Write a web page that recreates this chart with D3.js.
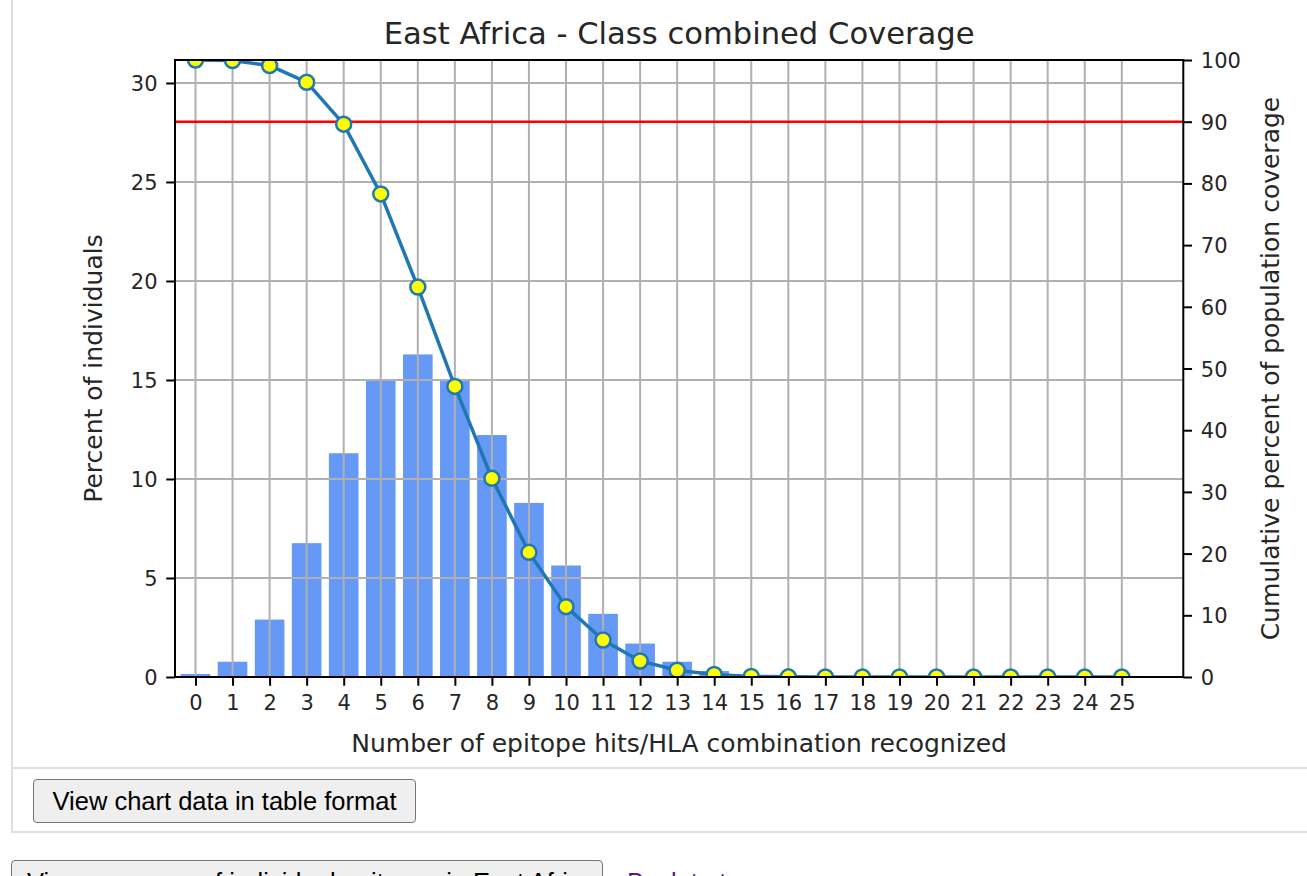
<!DOCTYPE html>
<html>
<head>
<meta charset="utf-8">
<script src="https://cdn.jsdelivr.net/npm/d3@7"></script>
<style>
  html, body { margin: 0; padding: 0; background: #fff; overflow: hidden; width: 1307px; height: 876px; }
  #frame { position: absolute; left: 11px; top: -2px; width: 1310px; height: 835px; border: 2px solid #dedede; box-sizing: border-box; }
  #sep { position: absolute; left: 11px; top: 767px; width: 1300px; height: 2px; background: #dedede; }
  svg { position: absolute; left: 0; top: 0; }
  .btn { position: absolute; font-family: "Liberation Sans", Arial, sans-serif; font-size: 25.5px; background: #efefef; border: 1px solid #767676; border-radius: 4px; color: #000; box-sizing: border-box; padding: 0 14px; line-height: 42px; white-space: nowrap; overflow: hidden; }
  #btn1 { left: 33px; top: 779px; width: 383px; height: 44px; text-align: center; }
  #btn2 { left: 11px; top: 860px; width: 592px; height: 44px; padding: 0 0 0 15px; }
  #link { position: absolute; left: 627px; top: 861px; font-family: "Liberation Sans", Arial, sans-serif; font-size: 25.5px; color: #551a8b; text-decoration: underline; line-height: 42px; white-space: nowrap; }
</style>
</head>
<body>
<div id="frame"></div>
<div id="sep"></div>
<svg id="chart" width="1307" height="770"></svg>
<div class="btn" id="btn1">View chart data in table format</div>
<div class="btn" id="btn2">View coverage of individual epitopes in East Africa</div>
<div id="link">Back to top</div>
<script>
const categories = [0,1,2,3,4,5,6,7,8,9,10,11,12,13,14,15,16,17,18,19,20,21,22,23,24,25];
const percentIndividuals = [0.15,0.77,2.9,6.76,11.3,15.0,16.29,14.95,12.22,8.79,5.63,3.19,1.69,0.77,0.3,0.05,0.02,0,0,0,0,0,0,0,0,0];
const cumulativeCoverage = [100,99.9,99.1,96.4,89.6,78.3,63.2,47.1,32.2,20.2,11.4,6.0,2.6,1.1,0.4,0.1,0.03,0,0,0,0,0,0,0,0,0];
const leftTicks = [0,5,10,15,20,25,30];
const rightTicks = [0,10,20,30,40,50,60,70,80,90,100];
const thresholdLine = 90;
const title = "East Africa - Class combined Coverage";
const xLabel = "Number of epitope hits/HLA combination recognized";
const yLeftLabel = "Percent of individuals";
const yRightLabel = "Cumulative percent of population coverage";

const L = 175, R = 1183.3, T = 60, B = 677;
const svg = d3.select("#chart");
const x = d3.scaleLinear().domain([-0.553, 26.66]).range([L, R]);
const yL = d3.scaleLinear().domain([0, 31.16]).range([B, T]);
const yR = d3.scaleLinear().domain([0, 100]).range([B, T]);
const font = "DejaVu Sans, sans-serif";
const tickLen = 8.75, pad = 8.75, tickFs = 21, labelFs = 25, titleFs = 30.6;

svg.append("defs").append("clipPath").attr("id", "plotclip")
  .append("rect").attr("x", L).attr("y", T).attr("width", R - L).attr("height", B - T);

const plot = svg.append("g").attr("clip-path", "url(#plotclip)");
const barW = x(0.8) - x(0);
plot.selectAll("rect.bar").data(categories).enter().append("rect")
  .attr("x", (d) => x(d) - barW / 2)
  .attr("y", (d, i) => yL(percentIndividuals[i]))
  .attr("width", barW)
  .attr("height", (d, i) => B - yL(percentIndividuals[i]))
  .attr("fill", "#6699f5");

// grid
plot.selectAll("line.gx").data(categories).enter().append("line")
  .attr("x1", (d) => x(d)).attr("x2", (d) => x(d)).attr("y1", T).attr("y2", B)
  .attr("stroke", "#b0b0b0").attr("stroke-width", 2);
plot.selectAll("line.gy").data(leftTicks).enter().append("line")
  .attr("x1", L).attr("x2", R).attr("y1", (d) => yL(d)).attr("y2", (d) => yL(d))
  .attr("stroke", "#b0b0b0").attr("stroke-width", 2);

// threshold
plot.append("line").attr("x1", L).attr("x2", R)
  .attr("y1", yR(thresholdLine)).attr("y2", yR(thresholdLine))
  .attr("stroke", "#ff0000").attr("stroke-width", 2.5);

// cumulative line
const line = d3.line().x((d) => x(d)).y((d, i) => yR(cumulativeCoverage[i]));
plot.append("path").datum(categories).attr("d", line)
  .attr("fill", "none").attr("stroke", "#1f77b4").attr("stroke-width", 3.5);
plot.selectAll("circle.m").data(categories).enter().append("circle")
  .attr("cx", (d) => x(d)).attr("cy", (d, i) => yR(cumulativeCoverage[i]))
  .attr("r", 7.5).attr("fill", "#ffff00").attr("stroke", "#1f77b4").attr("stroke-width", 2.5);

// axes
const tickFmt = (d) => String(d);
const xAxis = d3.axisBottom(x).tickValues(categories).tickFormat(tickFmt).tickSizeInner(tickLen).tickSizeOuter(0).tickPadding(pad);
const yAxisL = d3.axisLeft(yL).tickValues(leftTicks).tickFormat(tickFmt).tickSizeInner(tickLen).tickSizeOuter(0).tickPadding(pad);
const yAxisR = d3.axisRight(yR).tickValues(rightTicks).tickFormat(tickFmt).tickSizeInner(tickLen).tickSizeOuter(0).tickPadding(pad);

function styleAxis(g) {
  g.select(".domain").remove();
  g.selectAll(".tick line").attr("stroke", "#000").attr("stroke-width", 2);
  g.selectAll(".tick text").attr("fill", "#262626").style("font-family", font).style("font-size", tickFs + "px");
}
svg.append("g").attr("transform", `translate(0,${B})`).call(xAxis).call(styleAxis)
  .selectAll(".tick text").attr("dy", null).attr("y", tickLen + pad + 0.76 * tickFs);
svg.append("g").attr("transform", `translate(${L},0)`).call(yAxisL).call(styleAxis)
  .selectAll(".tick text").attr("dy", "0.36em");
svg.append("g").attr("transform", `translate(${R},0)`).call(yAxisR).call(styleAxis)
  .selectAll(".tick text").attr("dy", "0.36em");

// spines
svg.append("rect").attr("x", L).attr("y", T).attr("width", R - L).attr("height", B - T)
  .attr("fill", "none").attr("stroke", "#000").attr("stroke-width", 2);

// labels
svg.append("text").attr("x", (L + R) / 2).attr("y", 44).attr("text-anchor", "middle")
  .style("font-family", font).style("font-size", titleFs + "px").attr("fill", "#262626").text(title);
svg.append("text").attr("x", (L + R) / 2).attr("y", 752).attr("text-anchor", "middle")
  .style("font-family", font).style("font-size", labelFs + "px").attr("fill", "#262626").text(xLabel);
svg.append("text").attr("transform", `translate(102,${(T + B) / 2}) rotate(-90)`).attr("text-anchor", "middle")
  .style("font-family", font).style("font-size", labelFs + "px").attr("fill", "#262626").text(yLeftLabel);
svg.append("text").attr("transform", `translate(1279,${(T + B) / 2}) rotate(-90)`).attr("text-anchor", "middle")
  .style("font-family", font).style("font-size", labelFs + "px").attr("fill", "#262626").text(yRightLabel);
</script>
</body>
</html>
